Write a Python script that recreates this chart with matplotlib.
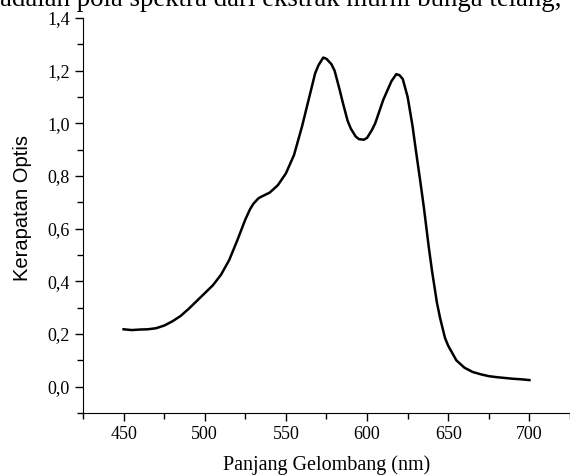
import matplotlib
matplotlib.use('Agg')
import matplotlib.pyplot as plt
from matplotlib.ticker import MultipleLocator

# spectrum
wavelength = [450, 455, 460, 465, 470, 475, 480, 485, 490, 495,
              500, 505, 510, 515, 520, 525, 528, 530, 533, 535, 540, 545,
              550, 555, 560, 565, 568, 570, 573, 575, 578, 580, 583, 585,
              588, 590, 593, 595, 598, 600, 603, 605, 610, 615, 618, 620, 622, 625,
              628, 630, 633, 635, 638, 640, 643, 645, 648, 650, 655, 660, 665, 670, 675,
              680, 685, 690, 695, 700]
optical_density = [0.218, 0.215, 0.217, 0.218, 0.222, 0.232, 0.248, 0.268, 0.295, 0.325,
                   0.355, 0.385, 0.425, 0.48, 0.555, 0.635, 0.675, 0.695, 0.715, 0.722, 0.737, 0.765,
                   0.81, 0.88, 0.99, 1.115, 1.19, 1.22, 1.25, 1.245, 1.225, 1.20, 1.13, 1.08,
                   1.01, 0.98, 0.95, 0.94, 0.938, 0.945, 0.975, 1.0, 1.09, 1.16, 1.187, 1.183, 1.168, 1.10,
                   0.99, 0.90, 0.77, 0.68, 0.53, 0.44, 0.32, 0.26, 0.185, 0.155, 0.10, 0.072, 0.056, 0.047, 0.040,
                   0.036, 0.033, 0.030, 0.028, 0.025]

x_ticks = [450, 500, 550, 600, 650, 700]
y_ticks = [0.0, 0.2, 0.4, 0.6, 0.8, 1.0, 1.2, 1.4]
y_labels = ['0,0', '0,2', '0,4', '0,6', '0,8', '1,0', '1,2', '1,4']

fig = plt.figure(figsize=(5.7, 4.75), dpi=100)
ax = fig.add_axes([0.1456, 0.1305, 0.8544, 0.8315])

ax.plot(wavelength, optical_density, color='black', lw=1.8)

ax.set_xlim(425, 725)
ax.set_ylim(-0.1, 1.4)
ax.spines['top'].set_visible(False)
ax.spines['right'].set_visible(False)

ax.set_xticks(x_ticks)
ax.set_xticklabels([str(t) for t in x_ticks])
ax.set_yticks(y_ticks)
ax.set_yticklabels(y_labels)
ax.xaxis.set_minor_locator(MultipleLocator(25))
ax.yaxis.set_minor_locator(MultipleLocator(0.1))
ax.tick_params(which='major', direction='out', length=6, width=1, labelsize=13)
ax.tick_params(which='minor', direction='out', length=4, width=1)
for lab in ax.get_xticklabels() + ax.get_yticklabels():
    lab.set_fontfamily('Liberation Serif')

ax.set_xlabel('Panjang Gelombang (nm)', fontsize=14.5, family='Liberation Serif', labelpad=9)
ax.set_ylabel('Kerapatan Optis', fontsize=14.5, family='Liberation Sans')
ax.yaxis.set_label_coords(-0.105, 0.52)

# caption cut off at top of the picture
fig.text(0.0, 1 - 6 / 475, 'adalah pola spektra dari ekstrak murni bunga telang,',
         fontsize=19.4, family='Liberation Serif', va='baseline', ha='left')

fig.savefig('out.png', dpi=100)
